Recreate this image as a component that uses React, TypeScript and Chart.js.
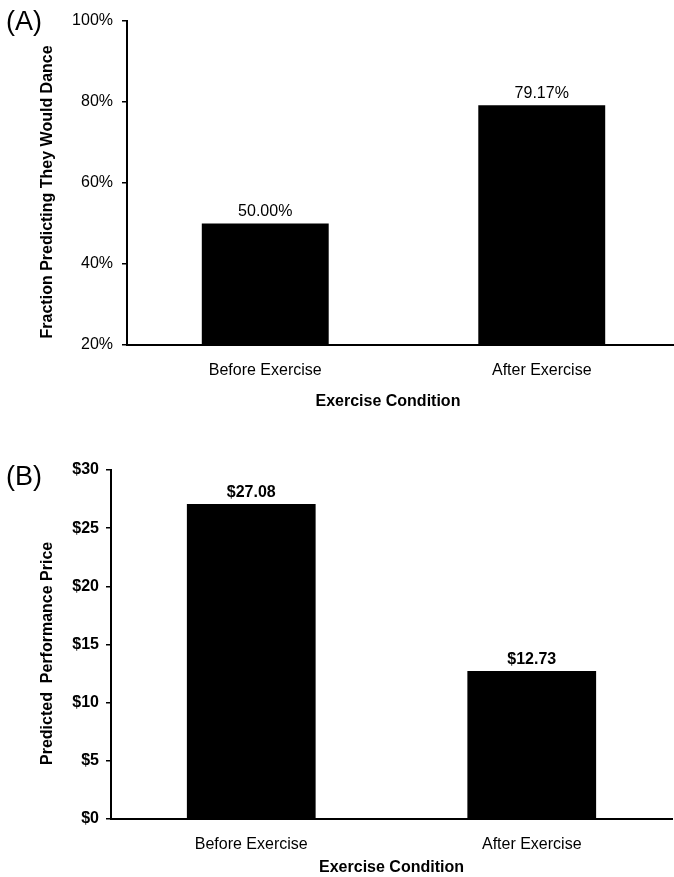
import { useEffect, useRef } from "react";
import { Chart, registerables } from "chart.js";

Chart.register(...registerables);

const categories = ["Before Exercise", "After Exercise"];
const danceFractions = [50.0, 79.17];
const danceTicks = [20, 40, 60, 80, 100];
const prices = [27.08, 12.73];
const priceTicks = [0, 5, 10, 15, 20, 25, 30];

const FONT = "'Liberation Sans', Arial, Helvetica, sans-serif";

function makeValueLabels(format: (v: number) => string, font: string, offset: number) {
  return {
    id: "valueLabels",
    afterDatasetsDraw(chart: any) {
      const ctx = chart.ctx;
      const meta = chart.getDatasetMeta(0);
      const data = chart.data.datasets[0].data as number[];
      ctx.save();
      ctx.font = font;
      ctx.fillStyle = "#000";
      ctx.textAlign = "center";
      ctx.textBaseline = "middle";
      meta.data.forEach((el: any, i: number) => {
        ctx.fillText(format(data[i]), el.x, el.y - offset);
      });
      ctx.restore();
    },
  };
}

interface PanelCfg {
  values: number[];
  ticks: number[];
  tickFormat: (v: number) => string;
  labelFormat: (v: number) => string;
  yTitle: string;
  yTickBold: boolean;
  labelBold: boolean;
  labelOffset: number;
  yWidth: number;
  xHeight: number;
  padTop: number;
  padRight: number;
  yTickPad: number;
  xTickPad: number;
  xTitlePadBottom: number;
  xTitle: string;
}

function buildChart(canvas: HTMLCanvasElement, c: PanelCfg) {
  const min = c.ticks[0];
  const max = c.ticks[c.ticks.length - 1];
  return new Chart(canvas, {
    type: "bar",
    data: {
      labels: categories,
      datasets: [
        {
          data: c.values,
          backgroundColor: "#000",
          borderWidth: 0,
          barPercentage: 0.459,
          categoryPercentage: 1,
        },
      ],
    },
    options: {
      responsive: false,
      animation: false,
      devicePixelRatio: 1,
      layout: { padding: { top: c.padTop, right: c.padRight, left: 0, bottom: 0 } },
      plugins: { legend: { display: false }, tooltip: { enabled: false } },
      scales: {
        x: {
          type: "category",
          offset: true,
          grid: { display: false, drawTicks: false },
          border: { display: true, color: "#000", width: 2 },
          ticks: {
            color: "#000",
            padding: c.xTickPad,
            font: { family: FONT, size: 16 },
            maxRotation: 0,
          },
          title: {
            display: true,
            text: c.xTitle,
            color: "#000",
            font: { family: FONT, size: 16, weight: "bold" },
            padding: { top: 0, bottom: c.xTitlePadBottom },
          },
          afterFit: (axis: any) => {
            axis.height = c.xHeight;
          },
        },
        y: {
          min,
          max,
          grid: {
            display: true,
            drawOnChartArea: false,
            drawTicks: true,
            tickLength: 5,
            color: "#000",
            lineWidth: 1.5,
          },
          border: { display: true, color: "#000", width: 2 },
          ticks: {
            color: "#000",
            padding: c.yTickPad,
            font: { family: FONT, size: 16, weight: c.yTickBold ? "bold" : "normal" },
            callback: (v: any) => c.tickFormat(Number(v)),
          },
          afterBuildTicks: (axis: any) => {
            axis.ticks = c.ticks.map((v) => ({ value: v }));
          },
          title: {
            display: true,
            text: c.yTitle,
            color: "#000",
            font: { family: FONT, size: 16, weight: "bold" },
            padding: { top: 38, bottom: 0 },
          },
          afterFit: (axis: any) => {
            axis.width = c.yWidth;
          },
        },
      },
    },
    plugins: [
      makeValueLabels(
        c.labelFormat,
        `${c.labelBold ? "bold " : ""}16px ${FONT}`,
        c.labelOffset
      ),
    ],
  } as any);
}

function Panel(props: { cfg: PanelCfg; width: number; height: number }) {
  const ref = useRef<HTMLCanvasElement | null>(null);
  useEffect(() => {
    if (!ref.current) return;
    const chart = buildChart(ref.current, props.cfg);
    return () => chart.destroy();
  }, []);
  return (
    <canvas
      ref={ref}
      width={props.width}
      height={props.height}
      style={{ width: props.width, height: props.height, display: "block" }}
    />
  );
}

const panelA: PanelCfg = {
  values: danceFractions,
  ticks: danceTicks,
  tickFormat: (v) => `${v}%`,
  labelFormat: (v) => `${v.toFixed(2)}%`,
  yTitle: "Fraction Predicting They Would Dance    ",
  yTickBold: false,
  labelBold: false,
  labelOffset: 12,
  yWidth: 127,
  xHeight: 85,
  padTop: 21,
  padRight: 2,
  yTickPad: 9,
  xTickPad: 16,
  xTitlePadBottom: 19,
  xTitle: "Exercise Condition       ",
};

const panelB: PanelCfg = {
  values: prices,
  ticks: priceTicks,
  tickFormat: (v) => `$${v}`,
  labelFormat: (v) => `$${v.toFixed(2)}`,
  yTitle: "Predicted  Performance Price    ",
  yTickBold: true,
  labelBold: true,
  labelOffset: 11,
  yWidth: 111,
  xHeight: 58,
  padTop: 40,
  padRight: 2,
  yTickPad: 7,
  xTickPad: 16,
  xTitlePadBottom: 0,
  xTitle: "Exercise Condition",
};

export default function App() {
  const labelStyle: any = {
    position: "absolute",
    left: 6,
    fontFamily: FONT,
    fontSize: 27,
    lineHeight: "27px",
    color: "#000",
  };
  return (
    <div
      style={{
        position: "absolute",
        left: 0,
        top: 0,
        width: 674,
        height: 877,
        overflow: "hidden",
        background: "#fff",
      }}
    >
      <div style={{ position: "absolute", left: 0, top: 0 }}>
        <Panel cfg={panelA} width={682} height={430} />
      </div>
      <div style={{ position: "absolute", left: 0, top: 430 }}>
        <Panel cfg={panelB} width={674} height={447} />
      </div>
      <span style={{ ...labelStyle, top: 8 }}>(A)</span>
      <span style={{ ...labelStyle, top: 463 }}>(B)</span>
    </div>
  );
}
